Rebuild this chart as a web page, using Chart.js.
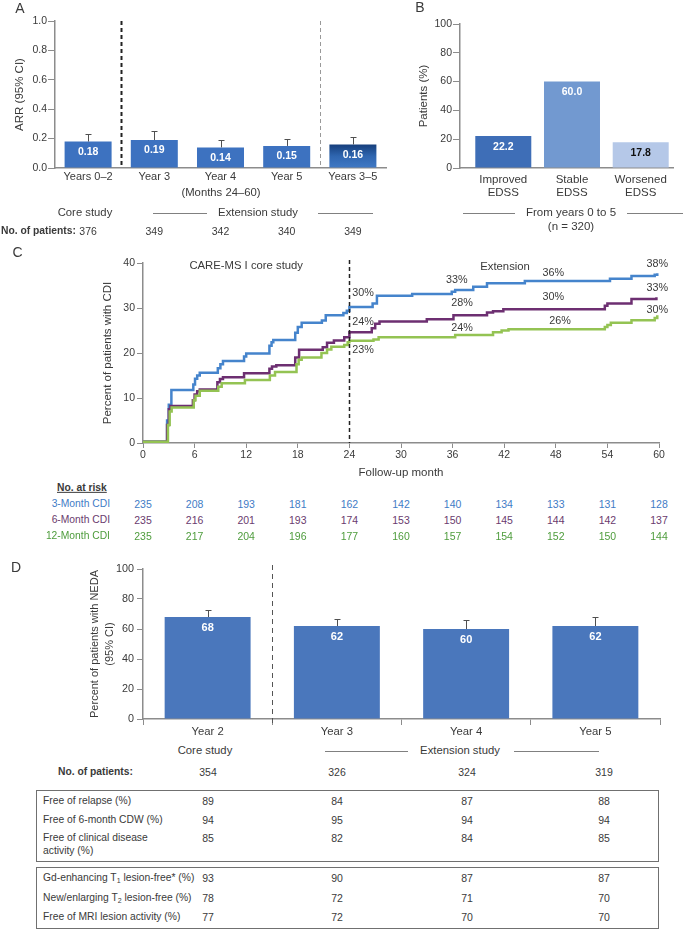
<!DOCTYPE html>
<html>
<head>
<meta charset="utf-8">
<title>CARE-MS I extension outcomes</title>
<script src="https://cdn.jsdelivr.net/npm/chart.js@4.4.1/dist/chart.umd.min.js"></script>
<style>
  body { margin: 0; background: #fff; }
  #page { position: relative; width: 684px; height: 929px; overflow: hidden;
          font-family: "Liberation Sans", Arial, sans-serif; color: #3a3a3a; }
  #page canvas { position: absolute; }
  .txt { position: absolute; white-space: nowrap; font-size: 11px; line-height: 1; }
  .rule { position: absolute; height: 0; border-top: 1px solid #808080; }
  .box { position: absolute; border: 1px solid #707070; box-sizing: border-box; }
  .txt sub { font-size: 7px; vertical-align: -2px; line-height: 0; }
</style>
</head>
<body>
<div id="page">
  <canvas id="chartA" width="400" height="210" style="left:0;top:0"></canvas>
  <canvas id="chartB" width="284" height="210" style="left:400px;top:0"></canvas>
  <canvas id="chartC" width="684" height="240" style="left:0;top:240px"></canvas>
  <canvas id="chartD" width="684" height="200" style="left:0;top:540px"></canvas>
</div>
<script>
/* =========================================================
   DATA
========================================================= */

// A - annualised relapse rate
const arrYears = ["Years 0–2", "Year 3", "Year 4", "Year 5", "Years 3–5"];
const arrRate = [0.18, 0.19, 0.14, 0.15, 0.16];
const arrRateUpper = [0.23, 0.25, 0.19, 0.20, 0.21];
const arrPatients = [376, 349, 342, 340, 349];

// B - EDSS change
const edssGroups = [["Improved", "EDSS"], ["Stable", "EDSS"], ["Worsened", "EDSS"]];
const edssPercent = [22.2, 60.0, 17.8];

// C - cumulative CDI (month of each step, value after the step)
const cdi3Months = [0, 2.8, 3.0, 3.3, 5.85, 6.05, 6.3, 6.6, 8.7, 9.0, 9.3, 11.75, 12.0,
  14.7, 14.95, 15.15, 17.7, 18.0, 18.45, 20.8, 21.25, 23.3, 23.7, 24.0, 26.7, 27.2,
  31.3, 35.9, 36.3, 38.4, 40.0, 44.4, 54.3, 56.8, 59.5, 59.8];
const cdi3Values = [0.3, 5, 8.5, 11.8, 13.0, 14.3, 15.0, 15.6, 16.6, 17.5, 18.2, 19.2, 19.9,
  21.6, 22.4, 22.9, 24.5, 25.8, 26.7, 27.2, 28.4, 28.9, 29.4, 30.2, 31.0, 32.7,
  33.1, 33.6, 34.0, 34.7, 35.5, 36.0, 36.5, 37.1, 37.4, 37.7];

const cdi6Months = [0, 2.8, 3.0, 3.2, 5.8, 6.0, 6.3, 6.6, 8.65, 8.95, 9.3, 11.75,
  14.7, 15.0, 15.5, 17.7, 18.15, 20.9, 21.4, 22.2, 23.4, 24.0, 26.6, 27.0, 27.5,
  33.0, 36.1, 40.0, 40.7, 41.9, 53.7, 54.0, 56.8, 59.7];
const cdi6Values = [0.3, 4, 7.5, 8.2, 9.5, 10.8, 11.5, 11.9, 13.5, 14.2, 14.6, 15.5,
  16.5, 17.0, 17.3, 19.0, 20.7, 21.3, 22.3, 22.8, 23.5, 24.6, 25.5, 26.5, 27.0,
  27.5, 28.4, 29.0, 29.3, 29.7, 30.5, 31.0, 32.0, 32.4];

const cdi12Months = [0, 2.9, 3.1, 3.33, 5.9, 6.1, 6.6, 8.75, 9.15, 11.85, 14.75, 15.35,
  17.85, 18.1, 18.45, 20.75, 21.4, 21.9, 23.4, 23.8, 24.0, 26.8, 27.4, 36.3,
  40.7, 41.7, 42.5, 53.7, 54.0, 54.4, 56.8, 59.5, 59.8];
const cdi12Values = [0.3, 4, 7, 7.9, 9.5, 10.5, 11.6, 12.5, 13.3, 14.0, 15.0, 15.8,
  17.5, 18.5, 19.0, 20.0, 20.8, 21.4, 21.8, 22.4, 22.7, 23.0, 23.5, 24.0,
  24.6, 25.0, 25.3, 25.8, 26.2, 26.7, 27.3, 27.8, 28.4];

const riskMonths = [0, 6, 12, 18, 24, 30, 36, 42, 48, 54, 60];
const risk3 = [235, 208, 193, 181, 162, 142, 140, 134, 133, 131, 128];
const risk6 = [235, 216, 201, 193, 174, 153, 150, 145, 144, 142, 137];
const risk12 = [235, 217, 204, 196, 177, 160, 157, 154, 152, 150, 144];

// C annotations: [month, percent, text]
const cdiNotes = [
  [12.0, 39.3, "CARE-MS I core study"], [42.1, 39.1, "Extension"],
  [25.6, 33.3, "30%"], [36.5, 36.2, "33%"], [47.7, 37.8, "36%"], [59.8, 39.8, "38%"],
  [25.6, 26.9, "24%"], [37.1, 31.1, "28%"], [47.7, 32.4, "30%"], [59.8, 34.4, "33%"],
  [25.6, 20.7, "23%"], [37.1, 25.6, "24%"], [48.5, 27.1, "26%"], [59.8, 29.6, "30%"]
];

// D - NEDA
const nedaYears = ["Year 2", "Year 3", "Year 4", "Year 5"];
const nedaPercent = [68, 62, 60, 62];
const nedaUpper = [73, 67, 66, 68];
const nedaPatients = [354, 326, 324, 319];
const clinicalRows = [
  ["Free of relapse (%)", 89, 84, 87, 88],
  ["Free of 6-month CDW (%)", 94, 95, 94, 94],
  ["Free of clinical disease\nactivity (%)", 85, 82, 84, 85]
];
const mriRows = [
  ["Gd-enhancing T<sub>1</sub> lesion-free* (%)", 93, 90, 87, 87],
  ["New/enlarging T<sub>2</sub> lesion-free (%)", 78, 72, 71, 70],
  ["Free of MRI lesion activity (%)", 77, 72, 70, 70]
];

/* =========================================================
   STYLE
========================================================= */

const TEXT = "#3a3a3a";
const AXIS = "#8c8c8c";
const FONT = '"Liberation Sans", Arial, sans-serif';
const BLUE = "#4584cc", PURPLE = "#6d2f71", GREEN = "#94c353";

Chart.defaults.font.family = FONT;
Chart.defaults.color = TEXT;

/* =========================================================
   PLUGINS
========================================================= */

function barLabels(texts, colors, font, offset) {
  return {
    id: "barLabels",
    afterDatasetsDraw(chart) {
      const ctx = chart.ctx;
      ctx.save();
      ctx.font = font;
      ctx.textAlign = "center";
      ctx.textBaseline = "middle";
      chart.getDatasetMeta(0).data.forEach((bar, i) => {
        ctx.fillStyle = colors[i];
        ctx.fillText(texts[i], bar.x, bar.y + offset);
      });
      ctx.restore();
    }
  };
}

function errorBars(upper) {
  return {
    id: "errorBars",
    afterDatasetsDraw(chart) {
      const ctx = chart.ctx;
      const y = chart.scales.y;
      ctx.save();
      ctx.strokeStyle = "#505050";
      ctx.lineWidth = 1;
      chart.getDatasetMeta(0).data.forEach((bar, i) => {
        const top = Math.round(y.getPixelForValue(upper[i])) + 0.5;
        const x = Math.round(bar.x) + 0.5;
        ctx.beginPath();
        ctx.moveTo(x, bar.y);
        ctx.lineTo(x, top);
        ctx.moveTo(x - 3, top);
        ctx.lineTo(x + 3, top);
        ctx.stroke();
      });
      ctx.restore();
    }
  };
}

function vLines(lines) {
  return {
    id: "vLines",
    afterDatasetsDraw(chart) {
      const {ctx, chartArea, scales} = chart;
      lines.forEach(l => {
        const x = Math.round(scales.x.getPixelForValue(l.at)) + 0.5;
        ctx.save();
        ctx.strokeStyle = l.color;
        ctx.lineWidth = l.width;
        ctx.setLineDash(l.dash);
        ctx.beginPath();
        ctx.moveTo(x, chartArea.top - l.above);
        ctx.lineTo(x, chartArea.bottom + l.below);
        ctx.stroke();
        ctx.restore();
      });
    }
  };
}

function notes(list) {
  return {
    id: "notes",
    afterDatasetsDraw(chart) {
      const {ctx, scales} = chart;
      ctx.save();
      ctx.fillStyle = TEXT;
      ctx.textAlign = "center";
      ctx.textBaseline = "middle";
      list.forEach(n => {
        ctx.font = (n[2].endsWith("%") ? "10.8px " : "11.3px ") + FONT;
        ctx.fillText(n[2], scales.x.getPixelForValue(n[0]), scales.y.getPixelForValue(n[1]));
      });
      ctx.restore();
    }
  };
}

/* =========================================================
   AXIS HELPER
========================================================= */

function leftAxis(o) {
  return {
    min: o.min,
    max: o.max,
    afterFit: s => { s.width = o.width; },
    ticks: { stepSize: o.step, padding: o.pad, color: TEXT, font: { size: o.size },
             callback: o.fmt || (v => v) },
    grid: { display: true, drawOnChartArea: false, drawTicks: true, tickLength: o.tick,
            color: AXIS, lineWidth: 1 },
    border: { display: true, color: AXIS, width: 1.5 },
    title: { display: true, text: o.title, color: TEXT,
             font: { size: o.titleSize, lineHeight: o.titleLH || 1.2 },
             padding: { top: o.titlePad, bottom: 0 } }
  };
}

/* =========================================================
   CHART A
========================================================= */

const chartA = new Chart(document.getElementById("chartA"), {
  type: "bar",
  data: {
    labels: arrYears,
    datasets: [{
      data: arrRate,
      backgroundColor: c => {
        if (c.dataIndex !== 4 || !c.chart.chartArea) return "#3d72c0";
        const top = c.chart.scales.y.getPixelForValue(arrRate[4]);
        const g = c.chart.ctx.createLinearGradient(0, top, 0, c.chart.chartArea.bottom);
        g.addColorStop(0, "#163f7c");
        g.addColorStop(0.5, "#2f66b0");
        g.addColorStop(1, "#4079c5");
        return g;
      },
      borderWidth: 0,
      categoryPercentage: 1,
      barPercentage: 0.71
    }]
  },
  options: {
    responsive: false, animation: false, events: [], devicePixelRatio: 1,
    layout: { padding: { top: 21, right: 14, bottom: 22, left: 0 } },
    plugins: { legend: { display: false }, tooltip: { enabled: false } },
    scales: {
      x: {
        afterFit: s => { s.height = 20; },
        grid: { display: false, drawTicks: false },
        border: { display: true, color: AXIS, width: 1.5 },
        ticks: { padding: 2.4, color: TEXT, font: { size: 11 } }
      },
      y: leftAxis({ min: 0, max: 1, step: 0.2, width: 55, pad: 1, tick: 7, size: 10.5,
                    fmt: v => v.toFixed(1), title: "ARR (95% CI)", titleSize: 11.5, titlePad: 13 })
    }
  },
  plugins: [
    vLines([
      { at: 0.5, color: "#222", width: 2, dash: [4, 3], above: 0, below: 0 },
      { at: 3.5, color: "#999", width: 1, dash: [4, 3], above: 0, below: 0 }
    ]),
    errorBars(arrRateUpper),
    barLabels(arrRate.map(v => v.toFixed(2)), arrRate.map(() => "#fff"), "bold 10.5px " + FONT, 10.5)
  ]
});

/* =========================================================
   CHART B
========================================================= */

const chartB = new Chart(document.getElementById("chartB"), {
  type: "bar",
  data: {
    datasets: [{
      data: edssPercent.map((v, i) => ({ x: i, y: v })),
      backgroundColor: ["#3e6eb7", "#7299d0", "#b5c8e8"],
      borderWidth: 0,
      categoryPercentage: 1,
      barPercentage: 0.815
    }]
  },
  options: {
    responsive: false, animation: false, events: [], devicePixelRatio: 1,
    layout: { padding: { top: 24, right: 11, bottom: 8, left: 0 } },
    plugins: { legend: { display: false }, tooltip: { enabled: false } },
    scales: {
      x: {
        type: "linear", min: -0.63, max: 2.47, offset: false,
        afterFit: s => { s.height = 34; },
        afterBuildTicks: s => { s.ticks = edssGroups.map((g, i) => ({ value: i })); },
        grid: { display: false, drawTicks: false, offset: false },
        border: { display: true, color: AXIS, width: 1.5 },
        ticks: { padding: 5.5, color: TEXT, font: { size: 11.5, lineHeight: 1.13 },
                 callback: v => edssGroups[v] }
      },
      y: leftAxis({ min: 0, max: 100, step: 20, width: 60, pad: 1, tick: 7, size: 10.5,
                    title: "Patients (%)", titleSize: 11.5, titlePad: 17 })
    }
  },
  plugins: [
    barLabels(edssPercent.map(v => v.toFixed(1)), ["#fff", "#fff", "#111"], "bold 10.5px " + FONT, 11)
  ]
});

/* =========================================================
   CHART C
========================================================= */

const toPoints = (months, values) => months.map((m, i) => ({ x: m, y: values[i] }));

const chartC = new Chart(document.getElementById("chartC"), {
  type: "line",
  data: {
    datasets: [
      { label: "3-Month CDI", data: toPoints(cdi3Months, cdi3Values), borderColor: BLUE, order: 3 },
      { label: "6-Month CDI", data: toPoints(cdi6Months, cdi6Values), borderColor: PURPLE, order: 2 },
      { label: "12-Month CDI", data: toPoints(cdi12Months, cdi12Values), borderColor: GREEN, order: 1 }
    ]
  },
  options: {
    responsive: false, animation: false, events: [], devicePixelRatio: 1,
    layout: { padding: { top: 23, right: 25, bottom: 0, left: 0 } },
    elements: {
      line: { borderWidth: 2.5, stepped: true, tension: 0, fill: false, borderCapStyle: "butt" },
      point: { radius: 0 }
    },
    plugins: { legend: { display: false }, tooltip: { enabled: false } },
    scales: {
      x: {
        type: "linear", min: 0, max: 60,
        afterFit: s => { s.height = 37; },
        ticks: { stepSize: 6, padding: 1, color: TEXT, font: { size: 10.5 } },
        grid: { display: true, drawOnChartArea: false, drawTicks: true, tickLength: 5, color: AXIS },
        border: { display: true, color: AXIS, width: 1.5 },
        title: { display: true, text: "Follow-up month", color: TEXT, font: { size: 11.5 },
                 padding: { top: 0, bottom: 0 } }
      },
      y: leftAxis({ min: 0, max: 40, step: 10, width: 143, pad: 2, tick: 6, size: 10.5,
                    title: "Percent of patients with CDI", titleSize: 11.5, titlePad: 101 })
    }
  },
  plugins: [
    vLines([{ at: 24, color: "#222", width: 1.5, dash: [4, 3], above: 3, below: 0 }]),
    notes(cdiNotes)
  ]
});

/* =========================================================
   CHART D
========================================================= */

const chartD = new Chart(document.getElementById("chartD"), {
  type: "bar",
  data: {
    labels: nedaYears,
    datasets: [{
      data: nedaPercent,
      backgroundColor: "#4a77bc",
      borderWidth: 0,
      categoryPercentage: 1,
      barPercentage: 0.665
    }]
  },
  options: {
    responsive: false, animation: false, events: [], devicePixelRatio: 1,
    layout: { padding: { top: 29, right: 24, bottom: 0, left: 0 } },
    plugins: { legend: { display: false }, tooltip: { enabled: false } },
    scales: {
      x: {
        afterFit: s => { s.height = 21; },
        grid: { display: true, drawOnChartArea: false, drawTicks: true, tickLength: 6,
                offset: true, color: AXIS },
        border: { display: true, color: AXIS, width: 1.5 },
        ticks: { padding: 0, color: TEXT, font: { size: 11.3 } }
      },
      y: leftAxis({ min: 0, max: 100, step: 20, width: 143, pad: 3, tick: 6, size: 10.8,
                    title: ["Percent of patients with NEDA", "(95% CI)"], titleSize: 11,
                    titleLH: 1.36, titlePad: 87.5 })
    }
  },
  plugins: [
    vLines([{ at: 0.5, color: "#555", width: 1, dash: [5, 4], above: 4, below: 4 }]),
    errorBars(nedaUpper),
    barLabels(nedaPercent.map(String), nedaPercent.map(() => "#fff"),
              'bold 11px "Liberation Sans Narrow", ' + FONT, 11)
  ]
});

/* =========================================================
   TEXT AROUND THE CHARTS
========================================================= */

const page = document.getElementById("page");

function addText(html, x, y, o = {}) {
  const d = document.createElement("div");
  d.className = "txt";
  d.innerHTML = html;
  d.style.left = x + "px";
  d.style.top = y + "px";
  const tx = o.align === "left" ? "0" : o.align === "right" ? "-100%" : "-50%";
  d.style.transform = `translate(${tx},-50%)`;
  if (o.size) d.style.fontSize = o.size + "px";
  if (o.bold) d.style.fontWeight = "bold";
  if (o.color) d.style.color = o.color;
  if (o.underline) d.style.textDecoration = "underline";
  page.appendChild(d);
}

function addRule(x1, x2, y) {
  const d = document.createElement("div");
  d.className = "rule";
  d.style.left = x1 + "px";
  d.style.top = y + "px";
  d.style.width = (x2 - x1) + "px";
  page.appendChild(d);
}

function addBox(x, y, w, h) {
  const d = document.createElement("div");
  d.className = "box";
  Object.assign(d.style, { left: x + "px", top: y + "px", width: w + "px", height: h + "px" });
  page.appendChild(d);
}

/* Panel A */
addText("A", 20, 8, { size: 14 });
addText("(Months 24–60)", 221, 193, { size: 11.3 });
addText("Core study", 85, 213, { size: 11.3 });
addText("Extension study", 258, 213, { size: 11.3 });
addRule(153, 207, 213);
addRule(318, 373, 213);
addText("No. of patients:", 1, 231, { size: 10.3, bold: true, align: "left" });
arrPatients.forEach((n, i) => addText(n, chartA.scales.x.getPixelForValue(i), 231, { size: 10.5 }));

/* Panel B */
addText("B", 420, 7, { size: 14 });
addText("From years 0 to 5", 571, 213, { size: 11.5 });
addText("(n = 320)", 571, 227, { size: 11.5 });
addRule(463, 515, 213);
addRule(627, 683, 213);

/* Panel C */
addText("C", 17.5, 252, { size: 14 });
addText("No. at risk", 57, 488, { size: 10.3, bold: true, underline: true, align: "left" });
[["3-Month CDI", risk3, "#3f7cc6", 504], ["6-Month CDI", risk6, "#6a3b6e", 520],
 ["12-Month CDI", risk12, "#4e9c3c", 536]].forEach(([name, row, color, y]) => {
  addText(name, 110, y, { size: 10.3, color: color, align: "right" });
  row.forEach((n, i) => addText(n, chartC.scales.x.getPixelForValue(riskMonths[i]), y,
                                { size: 10.5, color: color }));
});

/* Panel D */
addText("D", 16, 567, { size: 14 });
addText("Core study", 205, 751, { size: 11.3 });
addText("Extension study", 460, 751, { size: 11.3 });
addRule(325, 408, 751);
addRule(514, 599, 751);

const tableCols = [208, 337, 467, 604];
addText("No. of patients:", 58, 772, { size: 10.3, bold: true, align: "left" });
nedaPatients.forEach((n, i) => addText(n, tableCols[i], 772, { size: 10.5 }));

addBox(36, 790, 623, 72);
addBox(36, 867, 623, 62);

function tableRows(rows, ys) {
  rows.forEach((r, k) => {
    r[0].split("\n").forEach((line, j) => addText(line, 43, ys[k] + j * 13, { size: 10.3, align: "left" }));
    r.slice(1).forEach((v, i) => addText(v, tableCols[i], ys[k], { size: 10.5 }));
  });
}
tableRows(clinicalRows, [801, 820, 838]);
tableRows(mriRows, [878, 898, 917]);
</script>
</body>
</html>
